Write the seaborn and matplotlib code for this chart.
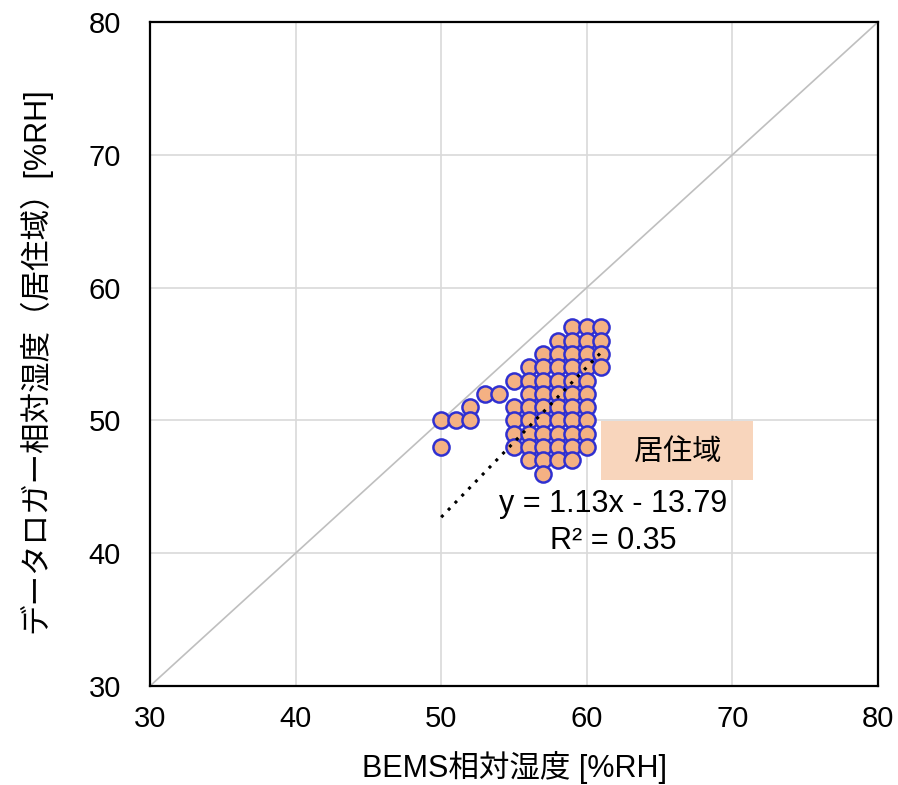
import numpy as np
import pandas as pd
import matplotlib
matplotlib.use("Agg")
import matplotlib.pyplot as plt
import seaborn as sns
from matplotlib.patches import Rectangle

# --- data (BEMS vs data logger RH, occupied zone) ---
bems_rh = [50, 50,
           51,
           52, 52,
           53,
           54,
           55, 55, 55, 55, 55,
           56, 56, 56, 56, 56, 56, 56, 56,
           57, 57, 57, 57, 57, 57, 57, 57, 57, 57,
           58, 58, 58, 58, 58, 58, 58, 58, 58, 58,
           59, 59, 59, 59, 59, 59, 59, 59, 59, 59, 59,
           60, 60, 60, 60, 60, 60, 60, 60, 60, 60,
           61, 61, 61, 61]
logger_rh = [50, 48,
             50,
             51, 50,
             52,
             52,
             53, 51, 50, 49, 48,
             54, 53, 52, 51, 50, 49, 48, 47,
             55, 54, 53, 52, 51, 50, 49, 48, 47, 46,
             56, 55, 54, 53, 52, 51, 50, 49, 48, 47,
             57, 56, 55, 54, 53, 52, 51, 50, 49, 48, 47,
             57, 56, 55, 54, 53, 52, 51, 50, 49, 48,
             57, 56, 55, 54]

slope, intercept = 1.13, -13.79
r_squared = 0.35
axis_min, axis_max = 30, 80
ticks = [30, 40, 50, 60, 70, 80]

df = pd.DataFrame({"bems": bems_rh, "logger": logger_rh})

sns.set_theme(style="white")
plt.rcParams['font.family'] = ['Liberation Sans', 'Noto Sans CJK JP', 'DejaVu Sans']
plt.rcParams['text.color'] = 'black'
plt.rcParams['axes.labelcolor'] = 'black'
plt.rcParams['xtick.color'] = 'black'
plt.rcParams['ytick.color'] = 'black'

fig = plt.figure(figsize=(8.98, 7.85), dpi=100)
ax = fig.add_axes([150 / 898, 1 - 686 / 785, 728 / 898, 664 / 785])

ax.grid(True, color="#D9D9D9", linewidth=1.2)
ax.set_axisbelow(True)

# 1:1 line
ax.plot([axis_min, axis_max], [axis_min, axis_max], color="#BFBFBF", linewidth=1.2, zorder=1)

sns.scatterplot(data=df, x="bems", y="logger", ax=ax, s=135,
                color="#F4B183", edgecolor="#3030D0", linewidth=1.8, zorder=3)

# trendline
xs = np.array([min(bems_rh), max(bems_rh)])
ax.plot(xs, slope * xs + intercept, linestyle=(0, (1, 2.2)), color="black",
        linewidth=2.2, zorder=4)

# label box
ax.add_patch(Rectangle((60.97, 45.5), 10.45, 4.45, facecolor="#F8D5BC",
                       edgecolor="none", zorder=2))
ax.text(66.25, 47.6, "居住域", ha="center", va="center", fontsize=21, zorder=5)

ax.text(61.8, 43.7, f"y = {slope:.2f}x - {abs(intercept):.2f}", ha="center",
        va="center", fontsize=22, zorder=5)
ax.text(61.8, 40.9, f"R² = {r_squared:.2f}", ha="center", va="center",
        fontsize=22, zorder=5)

ax.set_xlim(axis_min, axis_max)
ax.set_ylim(axis_min, axis_max)
ax.set_xticks(ticks)
ax.set_yticks(ticks)
ax.tick_params(labelsize=21, length=0)
ax.tick_params(axis="x", pad=14)
ax.tick_params(axis="y", pad=21)

for sp in ax.spines.values():
    sp.set_color("black")
    sp.set_linewidth(1.6)

ax.set_xlabel("BEMS相対湿度 [%RH]", fontsize=22)
ax.set_ylabel("データロガー相対湿度（居住域）[%RH]", fontsize=22)
ax.xaxis.set_label_coords(0.5, -0.098)
ax.yaxis.set_label_coords(-0.135, 0.49)

fig.savefig("out.png", dpi=100)
